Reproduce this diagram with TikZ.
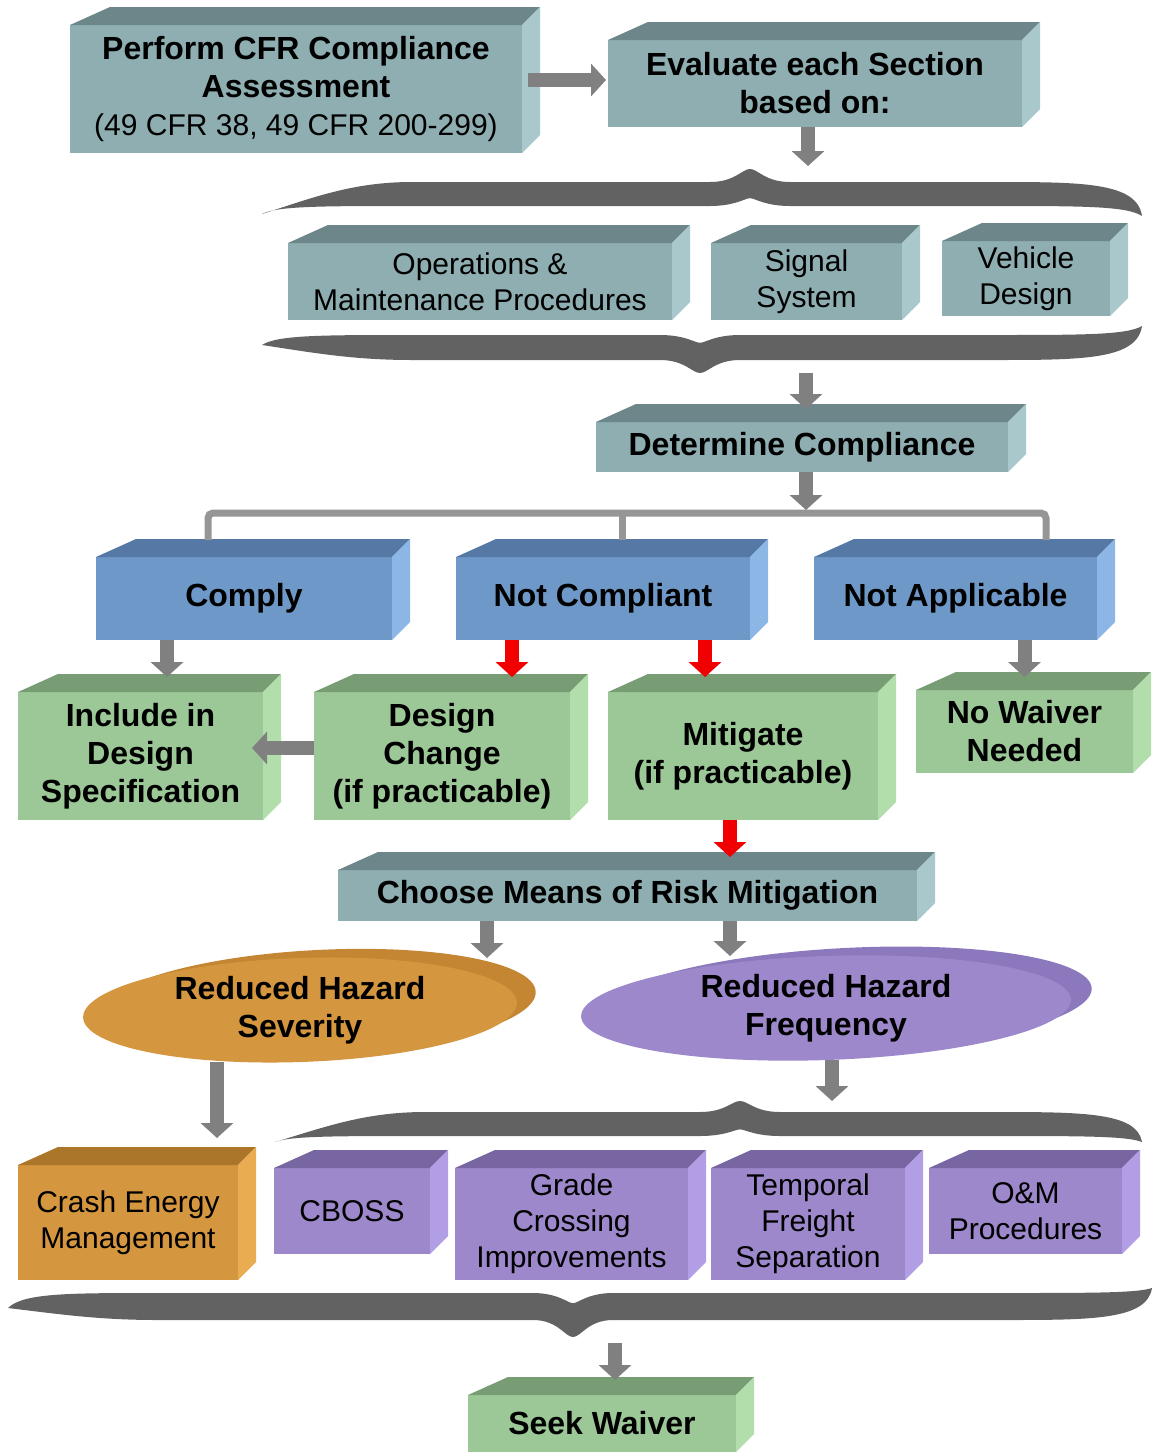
\documentclass[tikz,border=0pt]{standalone}
\usepackage{fontspec}
\setmainfont{Liberation Sans}
\usetikzlibrary{arrows.meta,shapes.geometric}

\definecolor{tealfront}{RGB}{142,174,177}
\definecolor{tealtop}{RGB}{108,134,137}
\definecolor{tealside}{RGB}{168,200,204}
\definecolor{bluefront}{RGB}{110,152,200}
\definecolor{bluetop}{RGB}{86,120,164}
\definecolor{blueside}{RGB}{140,182,230}
\definecolor{greenfront}{RGB}{156,200,152}
\definecolor{greentop}{RGB}{120,156,116}
\definecolor{greenside}{RGB}{178,222,172}
\definecolor{orangefront}{RGB}{212,150,62}
\definecolor{orangetop}{RGB}{172,118,42}
\definecolor{orangeside}{RGB}{234,172,80}
\definecolor{orangeback}{RGB}{196,134,50}
\definecolor{purplefront}{RGB}{156,136,202}
\definecolor{purpletop}{RGB}{120,102,162}
\definecolor{purpleside}{RGB}{178,158,228}
\definecolor{purpleback}{RGB}{140,120,188}
\definecolor{arrowgray}{RGB}{128,128,128}
\definecolor{forkgray}{RGB}{150,150,150}
\definecolor{braceg}{RGB}{98,98,98}
\definecolor{redarrowc}{RGB}{240,0,0}

% top and right faces of a box whose front is node #1
\newcommand{\slab}[2]{%
  \fill[#2top] (#1.north west) -- ++(40,-18) -- ([shift={(18,-18)}]#1.north east) -- (#1.north east) -- cycle;
  \fill[#2side] (#1.north east) -- ++(18,-18) -- ([shift={(18,-18)}]#1.south east) -- (#1.south east) -- cycle;}
% curly brace band: left x, right x, cusp edge y, far edge y, cusp x, cusp y, left tip y, right tip y
\newcommand{\ribbon}[8]{%
  \fill[braceg] (#1,#7) .. controls ({#1+50},{(#3+#7)/2}) and ({#1+90},#3) .. ({#1+150},#3)
    -- ({#5-40},#3) .. controls ({#5-15},#3) and ({#5-8},#6) .. (#5,#6)
    .. controls ({#5+8},#6) and ({#5+15},#3) .. ({#5+40},#3)
    -- ({#2-150},#3) .. controls ({#2-60},#3) and ({#2-5},#3) .. (#2,#8)
    .. controls ({#2-15},#4) and ({#2-60},#4) .. ({#2-150},#4)
    -- ({#5+40},#4) .. controls ({#5+15},#4) and ({#5+5},{#4+0.6*(#6-#3)}) .. (#5,{#4+0.6*(#6-#3)})
    .. controls ({#5-5},{#4+0.6*(#6-#3)}) and ({#5-15},#4) .. ({#5-40},#4)
    -- ({#1+150},#4) .. controls ({#1+60},#4) and ({#1+15},#4) .. cycle;}

\begin{document}
\begin{tikzpicture}[x=1pt,y=-1pt,
  plainbox/.style={rectangle,inner sep=0pt,outer sep=0pt,align=center,font=\fontsize{30}{36}\selectfont},
  boldbox/.style={plainbox,font=\fontsize{32}{38}\selectfont\bfseries},
  discbox/.style={ellipse,inner sep=0pt,outer sep=0pt,align=center,font=\fontsize{32}{38}\selectfont\bfseries},
  blockarrow/.style={line width=14pt,arrowgray,-{Triangle[width=32pt,length=15pt]}},
  redarrow/.style={blockarrow,redarrowc},
  forkline/.style={line width=7pt,forkgray,rounded corners=5pt}]
	\useasboundingbox (0,0) rectangle (1152,1452);
	\clip (0,0) rectangle (1152,1452);
	% assessment
	\node[boldbox,fill=tealfront,minimum width=452pt,minimum height=128pt] (perform) at (296,89) {Perform CFR Compliance\\Assessment\\{\mdseries\fontsize{30}{38}\selectfont(49 CFR 38, 49 CFR 200-299)}};
	\slab{perform}{teal}
	\node[boldbox,fill=tealfront,minimum width=414pt,minimum height=87pt] (evaluate) at (815,83.5) {Evaluate each Section\\based on:};
	\slab{evaluate}{teal}
	% sections
	\ribbon{262}{1142}{182}{206}{750}{169}{214}{216}
	\coordinate (b1in) at (808,166);
	\node[plainbox,fill=tealfront,minimum width=384pt,minimum height=77pt] (ops) at (480,281.5) {Operations \&\\Maintenance Procedures};
	\slab{ops}{teal}
	\node[plainbox,fill=tealfront,minimum width=191pt,minimum height=77pt] (signal) at (806.5,281.5) {Signal\\System};
	\slab{signal}{teal}
	\node[plainbox,fill=tealfront,minimum width=168pt,minimum height=75pt] (vehicle) at (1026,278.5) {Vehicle\\Design};
	\slab{vehicle}{teal}
	\ribbon{262}{1142}{360}{335}{700}{373}{345}{326}
	\coordinate (b2out) at (806,373);
	\node[boldbox,fill=tealfront,minimum width=412pt,minimum height=50pt] (determine) at (802,447) {Determine Compliance};
	\slab{determine}{teal}
	% outcomes
	\node[boldbox,fill=bluefront,minimum width=296pt,minimum height=83pt] (comply) at (244,598.5) {Comply};
	\slab{comply}{blue}
	\node[boldbox,fill=bluefront,minimum width=294pt,minimum height=83pt] (notcomp) at (603,598.5) {Not Compliant};
	\slab{notcomp}{blue}
	\node[boldbox,fill=bluefront,minimum width=283pt,minimum height=83pt] (notapp) at (955.5,598.5) {Not Applicable};
	\slab{notapp}{blue}
	\coordinate (fork) at (806,513);
	\coordinate (complyin) at ([shift={(-36,-17)}]comply.north);
	\coordinate (notcompin) at ([shift={(19,-17)}]notcomp.north);
	\coordinate (notappin) at ([shift={(90.5,-17)}]notapp.north);
	\draw[forkline] (complyin) |- (fork) -| (notappin);
	\draw[forkline] (notcompin) -- (notcompin |- fork);
	\node[boldbox,fill=greenfront,minimum width=245pt,minimum height=128pt] (include) at (140.5,756) {Include in\\Design\\Specification};
	\slab{include}{green}
	\node[boldbox,fill=greenfront,minimum width=256pt,minimum height=128pt] (change) at (442,756) {Design\\Change\\(if practicable)};
	\slab{change}{green}
	\node[boldbox,fill=greenfront,minimum width=270pt,minimum height=128pt] (mitigate) at (743,756) {Mitigate\\(if practicable)};
	\slab{mitigate}{green}
	\node[boldbox,fill=greenfront,minimum width=217pt,minimum height=83pt] (nowaiver) at (1024.5,731.5) {No Waiver\\Needed};
	\slab{nowaiver}{green}
	% mitigation
	\node[boldbox,fill=tealfront,minimum width=579pt,minimum height=51pt] (choose) at (627.5,895.5) {Choose Means of Risk Mitigation};
	\slab{choose}{teal}
	\fill[orangeback,rotate around={3:(318,1003)}] (318,1003) ellipse [x radius=218, y radius=53];
	\fill[orangefront,rotate around={2:(300,1010)}] (300,1010) ellipse [x radius=217, y radius=52];
	\node[discbox,minimum width=434pt,minimum height=104pt] (severity) at (300,1010) {Reduced Hazard\\Severity};
	\fill[purpleback,rotate around={3:(846,1001)}] (846,1001) ellipse [x radius=246, y radius=53];
	\fill[purplefront,rotate around={2:(826,1008)}] (826,1008) ellipse [x radius=245, y radius=52];
	\node[discbox,minimum width=490pt,minimum height=104pt] (frequency) at (826,1008) {Reduced Hazard\\Frequency};
	\node[plainbox,fill=orangefront,minimum width=220pt,minimum height=115pt] (crash) at (128,1222.5) {Crash Energy\\Management};
	\slab{crash}{orange}
	\ribbon{275}{1142}{1112}{1136}{740}{1101}{1142}{1142}
	\coordinate (b3in) at (832,1101);
	\node[plainbox,fill=purplefront,minimum width=156pt,minimum height=86pt] (cboss) at (352,1211) {CBOSS};
	\slab{cboss}{purple}
	\node[plainbox,fill=purplefront,minimum width=233pt,minimum height=112pt] (grade) at (571.5,1224) {Grade\\Crossing\\Improvements};
	\slab{grade}{purple}
	\node[plainbox,fill=purplefront,minimum width=194pt,minimum height=112pt] (temporal) at (808,1224) {Temporal\\Freight\\Separation};
	\slab{temporal}{purple}
	\node[plainbox,fill=purplefront,minimum width=193pt,minimum height=86pt] (om) at (1025.5,1211) {O\&M\\Procedures};
	\slab{om}{purple}
	\ribbon{8}{1152}{1320}{1293}{573}{1337}{1308}{1288}
	\coordinate (b4out) at (615,1343);
	\node[boldbox,fill=greenfront,minimum width=268pt,minimum height=57pt] (seek) at (602,1423.5) {Seek Waiver};
	\slab{seek}{green}
	% arrows
	\draw[blockarrow] ([shift={(6,-9)}]perform.east) -- ([shift={(-2,-3.5)}]evaluate.west);
	\draw[blockarrow] (evaluate.south -| b1in) -- (b1in);
	\draw[blockarrow,shorten >=13pt] (b2out) -- (b2out |- determine.north);
	\draw[blockarrow] ([xshift=4pt]determine.south) -- ([yshift=3pt]fork);
	\draw[blockarrow,shorten >=15pt] ([xshift=-77pt]comply.south) -- ([xshift=-77pt]comply.south |- include.north);
	\draw[redarrow,shorten >=15pt] ([xshift=-91pt]notcomp.south) -- ([xshift=-91pt]notcomp.south |- change.north);
	\draw[redarrow,shorten >=15pt] ([xshift=102pt]notcomp.south) -- ([xshift=102pt]notcomp.south |- mitigate.north);
	\draw[blockarrow,shorten >=13pt] (nowaiver.north |- notapp.south) -- (nowaiver.north);
	\draw[blockarrow,shorten >=-11pt] ([yshift=8pt]change.west) -- ([yshift=8pt]include.east);
	\draw[redarrow,shorten >=13pt] ([xshift=-13pt]mitigate.south) -- ([xshift=-13pt]mitigate.south |- choose.north);
	\draw[blockarrow] ([xshift=-140.5pt]choose.south) -- ([xshift=-140.5pt]choose.south |- severity.north);
	\draw[blockarrow] ([xshift=102.5pt]choose.south) -- ([xshift=102.5pt]choose.south |- frequency.north);
	\draw[blockarrow,shorten >=27pt] ([xshift=-83pt]severity.south) -- ([xshift=-83pt]severity.south |- crash.north);
	\draw[blockarrow] (frequency.south -| b3in) -- (b3in);
	\draw[blockarrow,shorten >=15pt] (b4out) -- (b4out |- seek.north);
\end{tikzpicture}
\end{document}
